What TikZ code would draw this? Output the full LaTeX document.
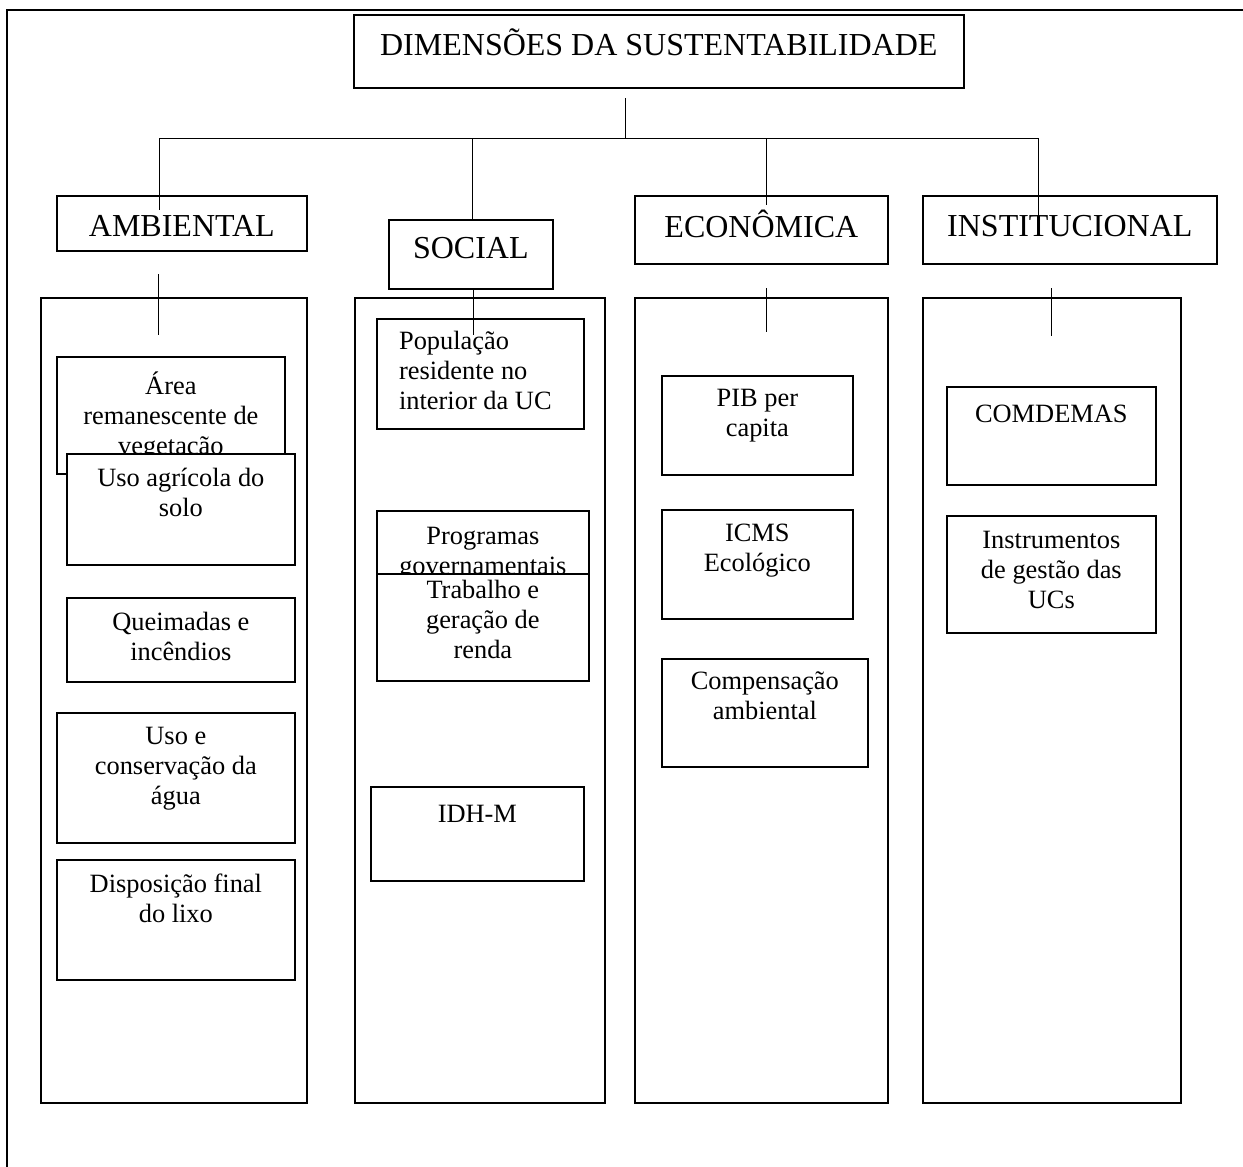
\documentclass[tikz,border=0pt]{standalone}
\usepackage{fontspec}
\setmainfont{Liberation Serif}
\newcommand{\bxfont}{\fontsize{26.4}{30}\selectfont}
\newcommand{\hdfont}{\fontsize{32}{38}\selectfont}
\tikzset{
    box/.style={draw, line width=1.7pt, fill=white, anchor=north west, inner sep=0pt},
    col/.style={draw, line width=1.7pt, anchor=north west, inner sep=0pt},
    txt/.style={anchor=north, align=center, inner sep=0pt, yshift=-15pt, font=\bxfont, execute at begin node=\strut},
    head/.style={anchor=north, inner sep=0pt, yshift=-14.4pt, font=\hdfont, execute at begin node=\strut},
    link/.style={line width=1pt}
}
\begin{document}
\begin{tikzpicture}[x=1pt, y=-1pt]
    \useasboundingbox (0,0) rectangle (1243,1167);
    \draw [line width=2pt] (7,1167) -- (7,10) -- (1243,10);

    % Dimensions
    \node [box, minimum width=610pt, minimum height=73pt, label={[head]90:DIMENSÕES DA SUSTENTABILIDADE}] (dim) at (353,14) {};
    \node [box, minimum width=250pt, minimum height=55pt, label={[head]90:AMBIENTAL}]      (amb)  at (56,195)  {};
    \node [box, minimum width=164pt, minimum height=69pt, label={[head,yshift=2pt]90:SOCIAL}] (soc)  at (388,219) {};
    \node [box, minimum width=253pt, minimum height=68pt, label={[head]90:ECONÔMICA}]      (eco)  at (634,195) {};
    \node [box, minimum width=294pt, minimum height=68pt, label={[head]90:INSTITUCIONAL}]  (inst) at (922,195) {};

    % Columns
    \node [col, minimum width=266pt, minimum height=805pt] (colamb)  at (40,297)  {};
    \node [col, minimum width=250pt, minimum height=805pt] (colsoc)  at (354,297) {};
    \node [col, minimum width=253pt, minimum height=805pt] (coleco)  at (634,297) {};
    \node [col, minimum width=258pt, minimum height=805pt] (colinst) at (922,297) {};

    % Indicators (ambiental)
    \node [box, minimum width=228pt, minimum height=117pt, label={[txt,yshift=-1pt]90:Área\\remanescente de\\vegetação}] (area) at (56,356) {};
    \node [box, minimum width=228pt, minimum height=111pt, label={[txt]90:Uso agrícola do\\solo}]          (agri)  at (66,453) {};
    \node [box, minimum width=228pt, minimum height=84pt,  label={[txt]90:Queimadas e\\incêndios}]         (queim) at (66,597) {};
    \node [box, minimum width=238pt, minimum height=130pt, label={[txt]90:Uso e\\conservação da\\água}]     (agua)  at (56,712) {};
    \node [box, minimum width=238pt, minimum height=120pt, label={[txt]90:Disposição final\\do lixo}]      (lixo)  at (56,859) {};

    % Indicators (social)
    \node [box, minimum width=207pt, minimum height=110pt, label={[txt,align=left,yshift=2pt,xshift=-5pt]90:População\\residente no\\interior da UC}] (pop) at (376,318) {};
    \node [box, minimum width=212pt, minimum height=100pt, label={[txt,yshift=-2pt]90:Programas\\governamentais}] (prog) at (376,510) {};
    \node [box, minimum width=212pt, minimum height=107pt, label={[txt,yshift=8pt]90:Trabalho e\\geração de\\renda}] (trab) at (376,573) {};
    \node [box, minimum width=213pt, minimum height=94pt,  label={[txt]90:IDH-M}] (idh) at (370,786) {};

    % Indicators (economica)
    \node [box, minimum width=191pt, minimum height=99pt,  label={[txt,yshift=1pt]90:PIB per\\capita}]      (pib)  at (661,375) {};
    \node [box, minimum width=191pt, minimum height=109pt, label={[txt]90:ICMS\\Ecológico}]                (icms) at (661,509) {};
    \node [box, minimum width=206pt, minimum height=108pt, label={[txt,yshift=1pt]90:Compensação\\ambiental}] (comp) at (661,658) {};

    % Indicators (institucional)
    \node [box, minimum width=209pt, minimum height=98pt,  label={[txt]90:COMDEMAS}]                      (comd)  at (946,386) {};
    \node [box, minimum width=209pt, minimum height=117pt, label={[txt,yshift=-1pt]90:Instrumentos\\de gestão das\\UCs}] (instr) at (946,515) {};

    % Tree
    \foreach \n/\x/\y in {top/625/98, hub/625/138, hl/159/138, hr/1038/138,
                          ambin/159/210, socj/472/138, ecoj/766/138, ecoin/766/205, instin/1038/217,
                          ambs/158/274, ambe/158/335, socs/473/288, soce/473/335,
                          ecos/766/288, ecoe/766/332, insts/1051/288, inste/1051/336}
        \coordinate (\n) at (\x,\y);

    \draw [link] (top) -- (hub);
    \draw [link] (hl) -- (hr);
    \draw [link] (hl) -- (ambin);
    \draw [link] (socj) -- (soc.north -| socj);
    \draw [link] (ecoj) -- (ecoin);
    \draw [link] (hr) -- (instin);
    \draw [link] (ambs) -- (ambe);
    \draw [link] (socs) -- (soce);
    \draw [link] (ecos) -- (ecoe);
    \draw [link] (insts) -- (inste);
\end{tikzpicture}
\end{document}
